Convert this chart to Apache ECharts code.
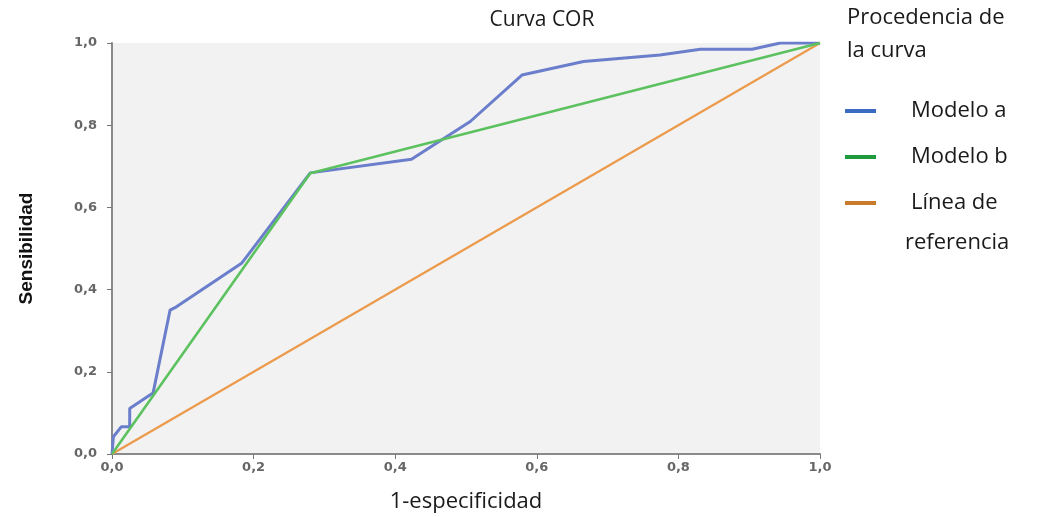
<!DOCTYPE html>
<html><head><meta charset="utf-8">
<script src="https://cdn.jsdelivr.net/npm/echarts@6/dist/echarts.min.js"></script>
<style>html,body{margin:0;padding:0;background:#fff}#c{width:1042px;height:517px}</style>
</head><body><div id="c"></div>
<script>
const seriesNames = ['Modelo a', 'Modelo b', 'Línea de referencia'];
const modeloA_x = [0, 0.002, 0.013, 0.025, 0.025, 0.053, 0.058, 0.082, 0.091, 0.183, 0.28, 0.423, 0.506, 0.579, 0.666, 0.774, 0.831, 0.904, 0.944, 1.0];
const modeloA_y = [0, 0.042, 0.066, 0.066, 0.111, 0.143, 0.148, 0.35, 0.358, 0.464, 0.684, 0.717, 0.809, 0.922, 0.955, 0.971, 0.985, 0.985, 1.0, 1.0];
const modeloB_x = [0, 0.28, 1.0];
const modeloB_y = [0, 0.683, 1.0];
const ref_x = [0, 1];
const ref_y = [0, 1];
const tickLabels = ['0,0', '0,2', '0,4', '0,6', '0,8', '1,0'];

const zip = (xs, ys) => xs.map((x, i) => [x, ys[i]]);
const fmt = v => tickLabels[Math.round(v / 0.2)];
const lineCol = ['#6b7ecb', '#5cc260', '#ec9a4c'];
const legCol = ['#3c6ac2', '#1c9a3c', '#c97a2a'];
const FONT = '"Open Sans", sans-serif';

const chart = echarts.init(document.getElementById('c'));
chart.setOption({
  animation: false,
  title: {
    text: 'Curva COR', left: 537, top: 5, textAlign: 'center',
    textStyle: { fontFamily: FONT, fontSize: 21, fontWeight: 'normal', color: '#1a1a1a' }
  },
  grid: { left: 112, right: 222, top: 43, bottom: 63, show: true, backgroundColor: '#f2f2f2', borderWidth: 0, outerBoundsMode: 'none', containLabel: false },
  xAxis: {
    type: 'value', min: 0, max: 1, interval: 0.2,
    name: '1-especificidad', nameLocation: 'middle', nameGap: 37,
    nameTextStyle: { fontFamily: FONT, fontSize: 22, color: '#1a1a1a' },
    axisLine: { show: true, lineStyle: { color: '#8a8a8a', width: 2 } },
    axisTick: { show: true, length: 5, lineStyle: { color: '#777' } },
    axisLabel: { formatter: fmt, fontFamily: 'DejaVu Sans', fontWeight: 'bold', fontSize: 13, color: '#666', margin: 7 },
    splitLine: { show: false }
  },
  yAxis: {
    type: 'value', min: 0, max: 1, interval: 0.2,
    name: 'Sensibilidad', nameLocation: 'middle', nameGap: 76, nameRotate: 90,
    nameTextStyle: { fontFamily: 'Liberation Sans', fontWeight: 'bold', fontSize: 19, color: '#111' },
    axisLine: { show: true, lineStyle: { color: '#8a8a8a', width: 2 } },
    axisTick: { show: true, length: 5, lineStyle: { color: '#777' } },
    axisLabel: { formatter: fmt, fontFamily: 'DejaVu Sans', fontWeight: 'bold', fontSize: 13, color: '#666', margin: 15 },
    splitLine: { show: false }
  },
  legend: {
    orient: 'vertical', left: 840, top: 95, itemWidth: 31, itemHeight: 4, itemGap: 24,
    icon: 'rect',
    formatter: n => n === 'Línea de referencia' ? 'Línea de' : n,
    textStyle: { fontFamily: FONT, fontSize: 22, color: '#1a1a1a', padding: [0, 0, 0, 30] },
    data: seriesNames.map((n, i) => ({ name: n, itemStyle: { color: legCol[i] } }))
  },
  graphic: [
    { type: 'text', left: 847, top: 7, style: { text: 'Procedencia de', font: '22px "Open Sans"', fill: '#1a1a1a' } },
    { type: 'text', left: 847, top: 40, style: { text: 'la curva', font: '22px "Open Sans"', fill: '#1a1a1a' } },
    { type: 'text', left: 905, top: 232, style: { text: 'referencia', font: '22px "Open Sans"', fill: '#1a1a1a' } }
  ],
  series: [
    { name: seriesNames[2], type: 'line', data: zip(ref_x, ref_y), showSymbol: false, lineStyle: { color: lineCol[2], width: 2.2 }, itemStyle: { color: lineCol[2] }, z: 1 },
    { name: seriesNames[0], type: 'line', data: zip(modeloA_x, modeloA_y), showSymbol: false, lineStyle: { color: lineCol[0], width: 3 }, itemStyle: { color: lineCol[0] }, z: 2 },
    { name: seriesNames[1], type: 'line', data: zip(modeloB_x, modeloB_y), showSymbol: false, lineStyle: { color: lineCol[1], width: 2.6 }, itemStyle: { color: lineCol[1] }, z: 3 }
  ]
});
</script></body></html>
